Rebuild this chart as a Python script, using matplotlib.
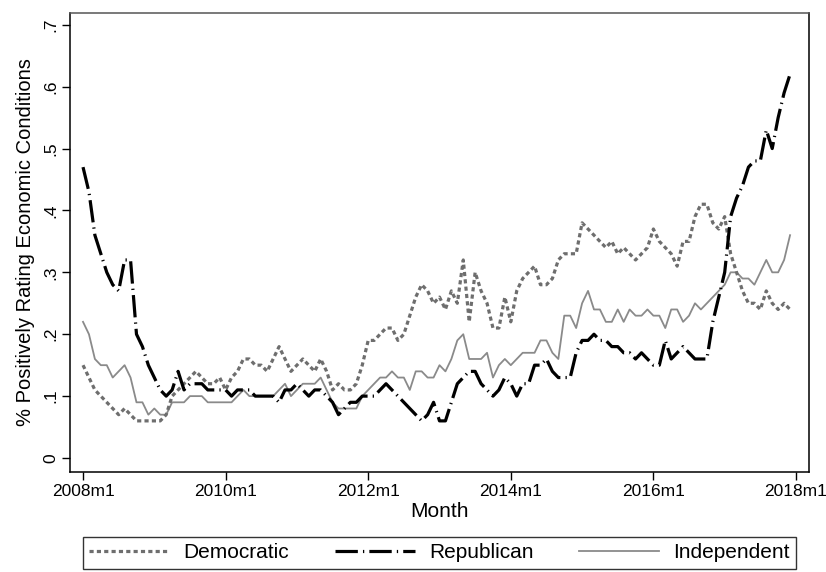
import numpy as np
import matplotlib
matplotlib.use("Agg")
import matplotlib.pyplot as plt
from matplotlib.lines import Line2D

plt.rcParams['font.family'] = ['Liberation Sans', 'DejaVu Sans']

# Months since 2008m1 (2008m1 .. 2017m12)
months = np.arange(120)

democratic = [
    .15, .13, .11, .10, .09, .08, .07, .08, .07, .06, .06, .06,
    .06, .06, .07, .10, .11, .12, .13, .14, .13, .12, .12, .13,
    .11, .13, .14, .16, .16, .15, .15, .14, .16, .18, .16, .14,
    .15, .16, .15, .14, .16, .14, .11, .12, .11, .11, .12, .15,
    .19, .19, .20, .21, .21, .19, .20, .23, .26, .28, .27, .25,
    .26, .24, .27, .25, .32, .22, .30, .27, .25, .21, .21, .26,
    .22, .27, .29, .30, .31, .28, .28, .29, .32, .33, .33, .33,
    .38, .37, .36, .35, .34, .35, .33, .34, .33, .32, .33, .34,
    .37, .35, .34, .33, .31, .35, .35, .39, .41, .41, .38, .37,
    .39, .33, .30, .27, .25, .25, .24, .27, .25, .24, .25, .24,
]

republican = [
    .47, .43, .36, .33, .30, .28, .27, .32, .32, .20, .18, .15,
    .13, .11, .10, .11, .14, .11, .12, .12, .12, .11, .11, .11,
    .11, .10, .11, .11, .11, .10, .10, .10, .10, .09, .11, .11,
    .12, .11, .10, .11, .11, .10, .09, .07, .08, .09, .09, .10,
    .10, .10, .11, .12, .11, .10, .09, .08, .07, .06, .07, .09,
    .06, .06, .09, .12, .13, .14, .14, .12, .11, .10, .11, .13,
    .12, .10, .12, .12, .15, .15, .16, .14, .13, .13, .13, .17,
    .19, .19, .20, .19, .19, .18, .18, .17, .17, .16, .17, .16,
    .15, .15, .19, .16, .17, .18, .17, .16, .16, .16, .22, .26,
    .30, .39, .42, .44, .47, .48, .48, .53, .50, .55, .59, .62,
]

independent = [
    .22, .20, .16, .15, .15, .13, .14, .15, .13, .09, .09, .07,
    .08, .07, .07, .09, .09, .09, .10, .10, .10, .09, .09, .09,
    .09, .09, .10, .11, .10, .10, .10, .10, .10, .11, .12, .10,
    .11, .12, .12, .12, .13, .11, .09, .08, .08, .08, .08, .10,
    .11, .12, .13, .13, .14, .13, .13, .11, .14, .14, .13, .13,
    .15, .14, .16, .19, .20, .16, .16, .16, .17, .13, .15, .16,
    .15, .16, .17, .17, .17, .19, .19, .17, .16, .23, .23, .21,
    .25, .27, .24, .24, .22, .22, .24, .22, .24, .23, .23, .24,
    .23, .23, .21, .24, .24, .22, .23, .25, .24, .25, .26, .27,
    .28, .30, .30, .29, .29, .28, .30, .32, .30, .30, .32, .36,
]

x_ticks = [0, 24, 48, 72, 96, 120]
x_tick_labels = ['2008m1', '2010m1', '2012m1', '2014m1', '2016m1', '2018m1']
y_ticks = [0, .1, .2, .3, .4, .5, .6, .7]
y_tick_labels = ['0', '.1', '.2', '.3', '.4', '.5', '.6', '.7']
series_names = ['Democratic', 'Republican', 'Independent']

W, H = 826, 572
fig = plt.figure(figsize=(W / 100, H / 100), dpi=100)
ax = fig.add_axes([70 / W, 1 - 472 / H, (809 - 70) / W, (472 - 13) / H])

dem_style = dict(color='#6e6e6e', lw=2.3, linestyle=(0, (1.3, 1.0)))
rep_style = dict(color='black', lw=2.3, linestyle=(0, (7, 1.6, 0.4, 1.6)))
ind_style = dict(color='#8a8a8a', lw=1.3, linestyle='-')

ax.plot(months, independent, **ind_style)
ax.plot(months, democratic, **dem_style)
ax.plot(months, republican, **rep_style)

ax.set_xlim(-2.19, 122.19)
ax.set_ylim(-0.0226, 0.719)
ax.set_xticks(x_ticks)
ax.set_xticklabels(x_tick_labels, fontsize=12.5)
ax.set_yticks(y_ticks)
ax.set_yticklabels(y_tick_labels, fontsize=12.5, rotation=90, va='center')
ax.tick_params(axis='both', length=5.5, width=1, color='black', pad=3)

for s in ['left', 'bottom', 'right']:
    ax.spines[s].set_color('black')
    ax.spines[s].set_linewidth(1.1)
ax.spines['top'].set_color('#555555')
ax.spines['top'].set_linewidth(1.1)

ax.set_xlabel('Month', fontsize=15, labelpad=2)
ax.set_ylabel('% Positively Rating Economic Conditions', fontsize=14.5, labelpad=6)

handles = [Line2D([], [], **dem_style), Line2D([], [], **rep_style), Line2D([], [], **ind_style)]
leg = fig.legend(handles, series_names, loc='upper center', ncol=3,
                 bbox_to_anchor=(439.5 / W, 1 - 537 / H), fontsize=15,
                 frameon=True, fancybox=False, edgecolor='black',
                 handlelength=3.85, columnspacing=2.2, handletextpad=0.67,
                 borderpad=0.3, borderaxespad=0)
leg.get_frame().set_linewidth(1.0)

fig.savefig('out.png', dpi=100, facecolor='white')
